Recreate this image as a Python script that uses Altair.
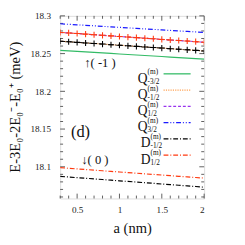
import altair as alt
import pandas as pd

# ---------------- data ----------------
a_vals = [0.3, 0.4, 0.5, 0.6, 0.7, 0.8, 0.9, 1.0, 1.1, 1.2, 1.3, 1.4, 1.5, 1.6, 1.7, 1.8, 1.9, 2.0]

q_m32 = [18.2543, 18.2536, 18.2529, 18.2523, 18.2516, 18.2509, 18.2502, 18.2495, 18.2488,
         18.2482, 18.2475, 18.2468, 18.2461, 18.2454, 18.2447, 18.2441, 18.2434, 18.2427]
q_m12 = [18.2664, 18.2657, 18.2649, 18.2641, 18.2634, 18.2626, 18.2618, 18.2611, 18.2603,
         18.2596, 18.2588, 18.2580, 18.2573, 18.2565, 18.2558, 18.2550, 18.2543, 18.2535]
q_p12 = [18.2780, 18.2774, 18.2766, 18.2758, 18.2750, 18.2742, 18.2735, 18.2727, 18.2719,
         18.2712, 18.2704, 18.2696, 18.2688, 18.2680, 18.2673, 18.2666, 18.2658, 18.2650]
q_p32 = [18.2895, 18.2888, 18.2881, 18.2875, 18.2868, 18.2861, 18.2854, 18.2848, 18.2841,
         18.2834, 18.2827, 18.2821, 18.2814, 18.2807, 18.2800, 18.2794, 18.2787, 18.2780]
d_m12_up = [18.2664, 18.2657, 18.2649, 18.2641, 18.2634, 18.2626, 18.2618, 18.2611, 18.2603,
            18.2596, 18.2588, 18.2580, 18.2573, 18.2565, 18.2558, 18.2550, 18.2543, 18.2535]
d_p12_up = [18.2780, 18.2774, 18.2766, 18.2758, 18.2750, 18.2742, 18.2735, 18.2727, 18.2719,
            18.2712, 18.2704, 18.2696, 18.2688, 18.2680, 18.2673, 18.2666, 18.2658, 18.2650]
d_p12_lo = [18.0988, 18.0980, 18.0972, 18.0964, 18.0956, 18.0947, 18.0939, 18.0931, 18.0923,
            18.0915, 18.0907, 18.0899, 18.0891, 18.0882, 18.0874, 18.0866, 18.0858, 18.0850]
d_m12_lo = [18.0873, 18.0865, 18.0856, 18.0848, 18.0839, 18.0831, 18.0823, 18.0814, 18.0806,
            18.0797, 18.0789, 18.0781, 18.0772, 18.0764, 18.0755, 18.0747, 18.0739, 18.0730]

x_major = [0.5, 1.0, 1.5, 2.0]
x_minor = [0.3, 0.4, 0.6, 0.7, 0.8, 0.9, 1.1, 1.2, 1.3, 1.4, 1.6, 1.7, 1.8, 1.9]
y_major = [18.1, 18.15, 18.2, 18.25, 18.3]
y_minor = [18.06, 18.07, 18.08, 18.09, 18.11, 18.12, 18.13, 18.14, 18.16, 18.17, 18.18,
           18.19, 18.21, 18.22, 18.23, 18.24, 18.26, 18.27, 18.28, 18.29]

legend_letters = ["Q", "Q", "Q", "Q", "D", "D"]
legend_subs = ["-3/2", "-1/2", "1/2", "3/2", "-1/2", "1/2"]
legend_sup = "(m)"

y_title = "E-3E\u2080-2E\u2080\u207b-E\u2080\u207a (meV)"
ann_text = ["\u2191( -1 )", "(d)", "\u2193( 0 )"]
ann_a = [0.77, 0.54, 0.71]
ann_v = [18.237, 18.146, 18.109]

# ---------------- styles ----------------
FONT = "Liberation Serif"
W, H = 149, 189
GREEN, ORANGE, PURPLE, BLUE, BLACK, RED = "#33bb66", "#ffa050", "#9933ee", "#1a1aff", "#000000", "#ff3a10"
DASHDOT = [5, 2, 1, 2]

xs = alt.Scale(domain=[0.3, 2.0], nice=False, zero=False)
ys = alt.Scale(domain=[18.058, 18.3], nice=False, zero=False)
xaxis = alt.Axis(values=x_major, format=".1~f", ticks=False, domain=False, grid=False,
                 labelFont=FONT, labelFontSize=9.5, labelPadding=7, labelColor="#222",
                 title="a (nm)", titleFont=FONT, titleFontSize=15, titleFontWeight="normal",
                 titleBaseline="alphabetic", titleY=35, titleColor="#111")
yaxis = alt.Axis(values=y_major, format=".2~f", ticks=False, domain=False, grid=False,
                 labelFont=FONT, labelFontSize=9.5, labelPadding=10, labelColor="#222",
                 title=None)
X = alt.X("a:Q", scale=xs, axis=xaxis)
Y = alt.Y("v:Q", scale=ys, axis=yaxis)

layers = []


def line(vals, color, dash=None, width=1.2):
    kw = dict(color=color, strokeWidth=width, clip=True)
    if dash:
        kw["strokeDash"] = dash
    df = pd.DataFrame({"a": a_vals, "v": vals})
    return alt.Chart(df).mark_line(**kw).encode(x=X, y=Y)


def crosses(vals, color):
    df = pd.DataFrame({"a": a_vals, "v": vals})
    return alt.Chart(df).mark_point(shape="M-1,0L1,0M0,-1L0,1", filled=False, size=40,
                                    strokeWidth=1.1, color=color, opacity=1, clip=True).encode(x=X, y=Y)


def yticks(vals, ln):
    df = pd.DataFrame({"v": vals})
    c = alt.Chart(df)
    return [c.mark_rule(color="#333", strokeWidth=0.8).encode(y=Y, x=alt.value(0), x2=alt.value(ln)),
            c.mark_rule(color="#333", strokeWidth=0.8).encode(y=Y, x=alt.value(W), x2=alt.value(W - ln))]


def xticks(vals, ln):
    df = pd.DataFrame({"a": vals})
    c = alt.Chart(df)
    return [c.mark_rule(color="#333", strokeWidth=0.8).encode(x=X, y=alt.value(H), y2=alt.value(H - ln)),
            c.mark_rule(color="#333", strokeWidth=0.8).encode(x=X, y=alt.value(0), y2=alt.value(ln))]


layers += yticks(y_minor, 3) + yticks(y_major, 5) + xticks(x_minor, 3) + xticks(x_major, 5)

# curves
layers.append(line(q_m32, GREEN))
layers.append(line(q_m12, ORANGE, [1.2, 1.2]))
layers.append(line(q_p12, PURPLE, [3, 2]))
layers.append(line(q_p32, BLUE, [5, 2, 1, 2, 1, 2]))
layers.append(line(d_m12_up, BLACK, DASHDOT, 1.0))
layers.append(line(d_p12_up, RED, DASHDOT, 1.0))
layers.append(crosses(d_m12_up, BLACK))
layers.append(crosses(d_p12_up, RED))
layers.append(line(d_p12_lo, RED, DASHDOT))
layers.append(line(d_m12_lo, BLACK, DASHDOT))

# annotations
ann_df = pd.DataFrame({"a": ann_a, "v": ann_v, "t": ann_text})
layers.append(alt.Chart(ann_df.iloc[[0, 2]]).mark_text(font=FONT, fontSize=13, color="#111").encode(x=X, y=Y, text="t:N"))
layers.append(alt.Chart(ann_df.iloc[[1]]).mark_text(font=FONT, fontSize=17, color="#111").encode(x=X, y=Y, text="t:N"))

one = alt.Data(values=[{}])
# y-axis title
layers.append(alt.Chart(one).mark_text(text=y_title, font=FONT, fontSize=15, angle=270, align="center",
                                       baseline="middle", color="#111").encode(x=alt.value(-47), y=alt.value(H / 2)))

# legend
leg_colors = [GREEN, ORANGE, PURPLE, BLUE, BLACK, RED]
leg_dash = [None, [1.2, 1.2], [3, 2], [5, 2, 1, 2, 1, 2], DASHDOT, DASHDOT]
for i in range(6):
    yy = 60 + 16.8 * i
    xr = 90.5 if legend_letters[i] == "Q" else 93.5
    kw = dict(color=leg_colors[i], strokeWidth=1.3)
    if leg_dash[i]:
        kw["strokeDash"] = leg_dash[i]
    layers.append(alt.Chart(one).mark_rule(**kw).encode(x=alt.value(107), x2=alt.value(135), y=alt.value(yy)))
    layers.append(alt.Chart(one).mark_text(text=legend_letters[i], font=FONT, fontSize=14, align="right",
                                           baseline="alphabetic", color="#111").encode(x=alt.value(xr), y=alt.value(yy + 9)))
    layers.append(alt.Chart(one).mark_text(text=legend_sup, font=FONT, fontSize=7.5, align="left",
                                           baseline="alphabetic", color="#111").encode(x=alt.value(xr), y=alt.value(yy + 0.5)))
    layers.append(alt.Chart(one).mark_text(text=legend_subs[i], font=FONT, fontSize=7.5, align="left",
                                           baseline="alphabetic", color="#111").encode(x=alt.value(xr), y=alt.value(yy + 10)))

chart = alt.layer(*layers).properties(
    width=W, height=H,
    autosize=alt.AutoSizeParams(type="none"),
    padding={"left": 54, "top": 4, "right": 34, "bottom": 44},
).configure_view(stroke="#222", strokeWidth=1).configure(background="white")

chart.save("out.html", embed_options={"renderer": "svg", "actions": False})
